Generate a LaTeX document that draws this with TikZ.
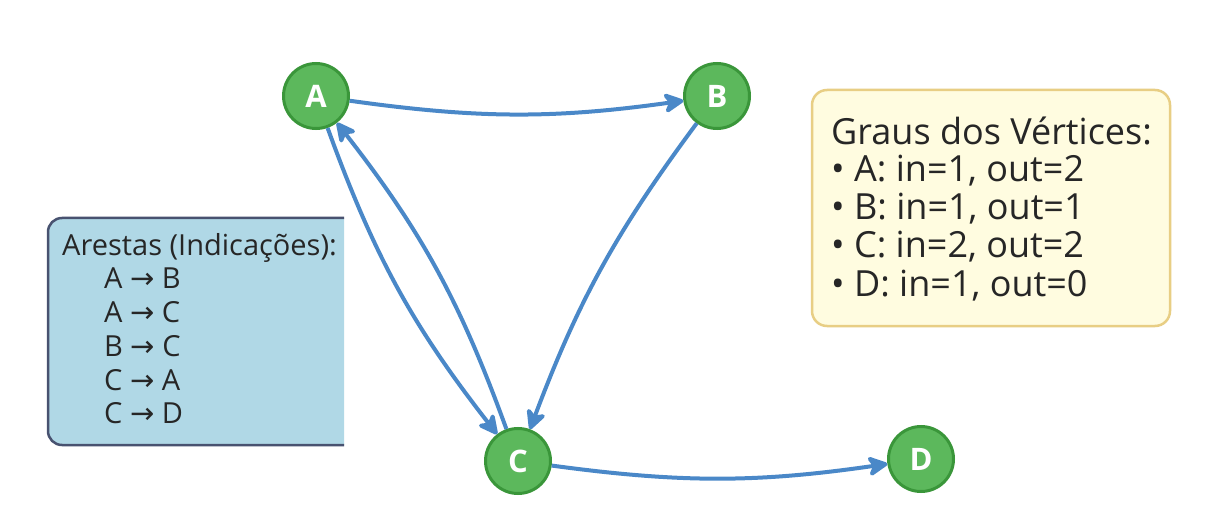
\documentclass[tikz,border=0pt]{standalone}
\usepackage{fontspec}
\setmainfont{Open Sans}
\newfontfamily\arrowfont{DejaVu Sans}
\usetikzlibrary{arrows.meta}
\definecolor{nodefill}{RGB}{92,184,92}
\definecolor{nodeedge}{RGB}{58,150,58}
\definecolor{edgeblue}{RGB}{74,136,200}
\definecolor{lbfill}{RGB}{176,216,230}
\definecolor{lbedge}{RGB}{72,82,112}
\definecolor{rbfill}{RGB}{255,252,224}
\definecolor{rbedge}{RGB}{232,206,132}
\newcommand{\rarr}{{\arrowfont →}}
\tikzset{
  vertex/.style={circle, fill=nodefill, draw=nodeedge, line width=3pt, minimum size=65pt, inner sep=0pt,
    text=white, font=\fontsize{31}{31}\selectfont\bfseries},
  conn/.style={draw=edgeblue, line width=4pt,
    -{Stealth[length=24pt,width=24pt,inset=7pt,round]}},
  boxtext/.style={anchor=base west, inner sep=0pt, text=black!85},
  lft/.style={boxtext, font=\fontsize{29}{29}\selectfont},
  rgt/.style={boxtext, font=\fontsize{36}{36}\selectfont},
}
\begin{document}
\begin{tikzpicture}[x=1pt,y=-1pt]
\useasboundingbox (0,0) rectangle (1232,513);
\fill[white] (0,0) rectangle (1232,513);

% left box
\fill[lbfill] (344,218) [rounded corners=14pt] -- (48,218) -- (48,445) [sharp corners] -- (344,445) -- cycle;
\draw[lbedge, line width=2.5pt, rounded corners=14pt] (344,218) -- (48,218) -- (48,445) -- (344,445);
\node[lft] (lt) at (62,255) {Arestas (Indicações):};
\node[lft] (l1) at (104,288) {A \rarr{} B};
\node[lft] (l2) at (104,322) {A \rarr{} C};
\node[lft] (l3) at (104,356) {B \rarr{} C};
\node[lft] (l4) at (104,390) {C \rarr{} A};
\node[lft] (l5) at (104,423) {C \rarr{} D};

% right box
\draw[rbedge, fill=rbfill, line width=2.5pt, rounded corners=15pt] (812,90) rectangle (1170,326);
\node[rgt] (rt) at (831,145) {Graus dos Vértices:};
\node[rgt] (r1) at (831,182) {• A: in=1, out=2};
\node[rgt] (r2) at (831,220) {• B: in=1, out=1};
\node[rgt] (r3) at (831,258) {• C: in=2, out=2};
\node[rgt] (r4) at (831,296) {• D: in=1, out=0};

% vertices
\node[vertex] (A) at (316,96) {A};
\node[vertex] (B) at (717,96) {B};
\node[vertex] (C) at (518,461) {C};
\node[vertex] (D) at (921,459) {D};

% edges
\draw[conn] (A) to[bend right=8] (B);
\draw[conn] (A) to[bend right=9] (C);
\draw[conn] (C) to[bend right=9] (A);
\draw[conn] (B) to[bend right=8] (C);
\draw[conn] (C) to[bend right=8] (D);
\end{tikzpicture}
\end{document}
